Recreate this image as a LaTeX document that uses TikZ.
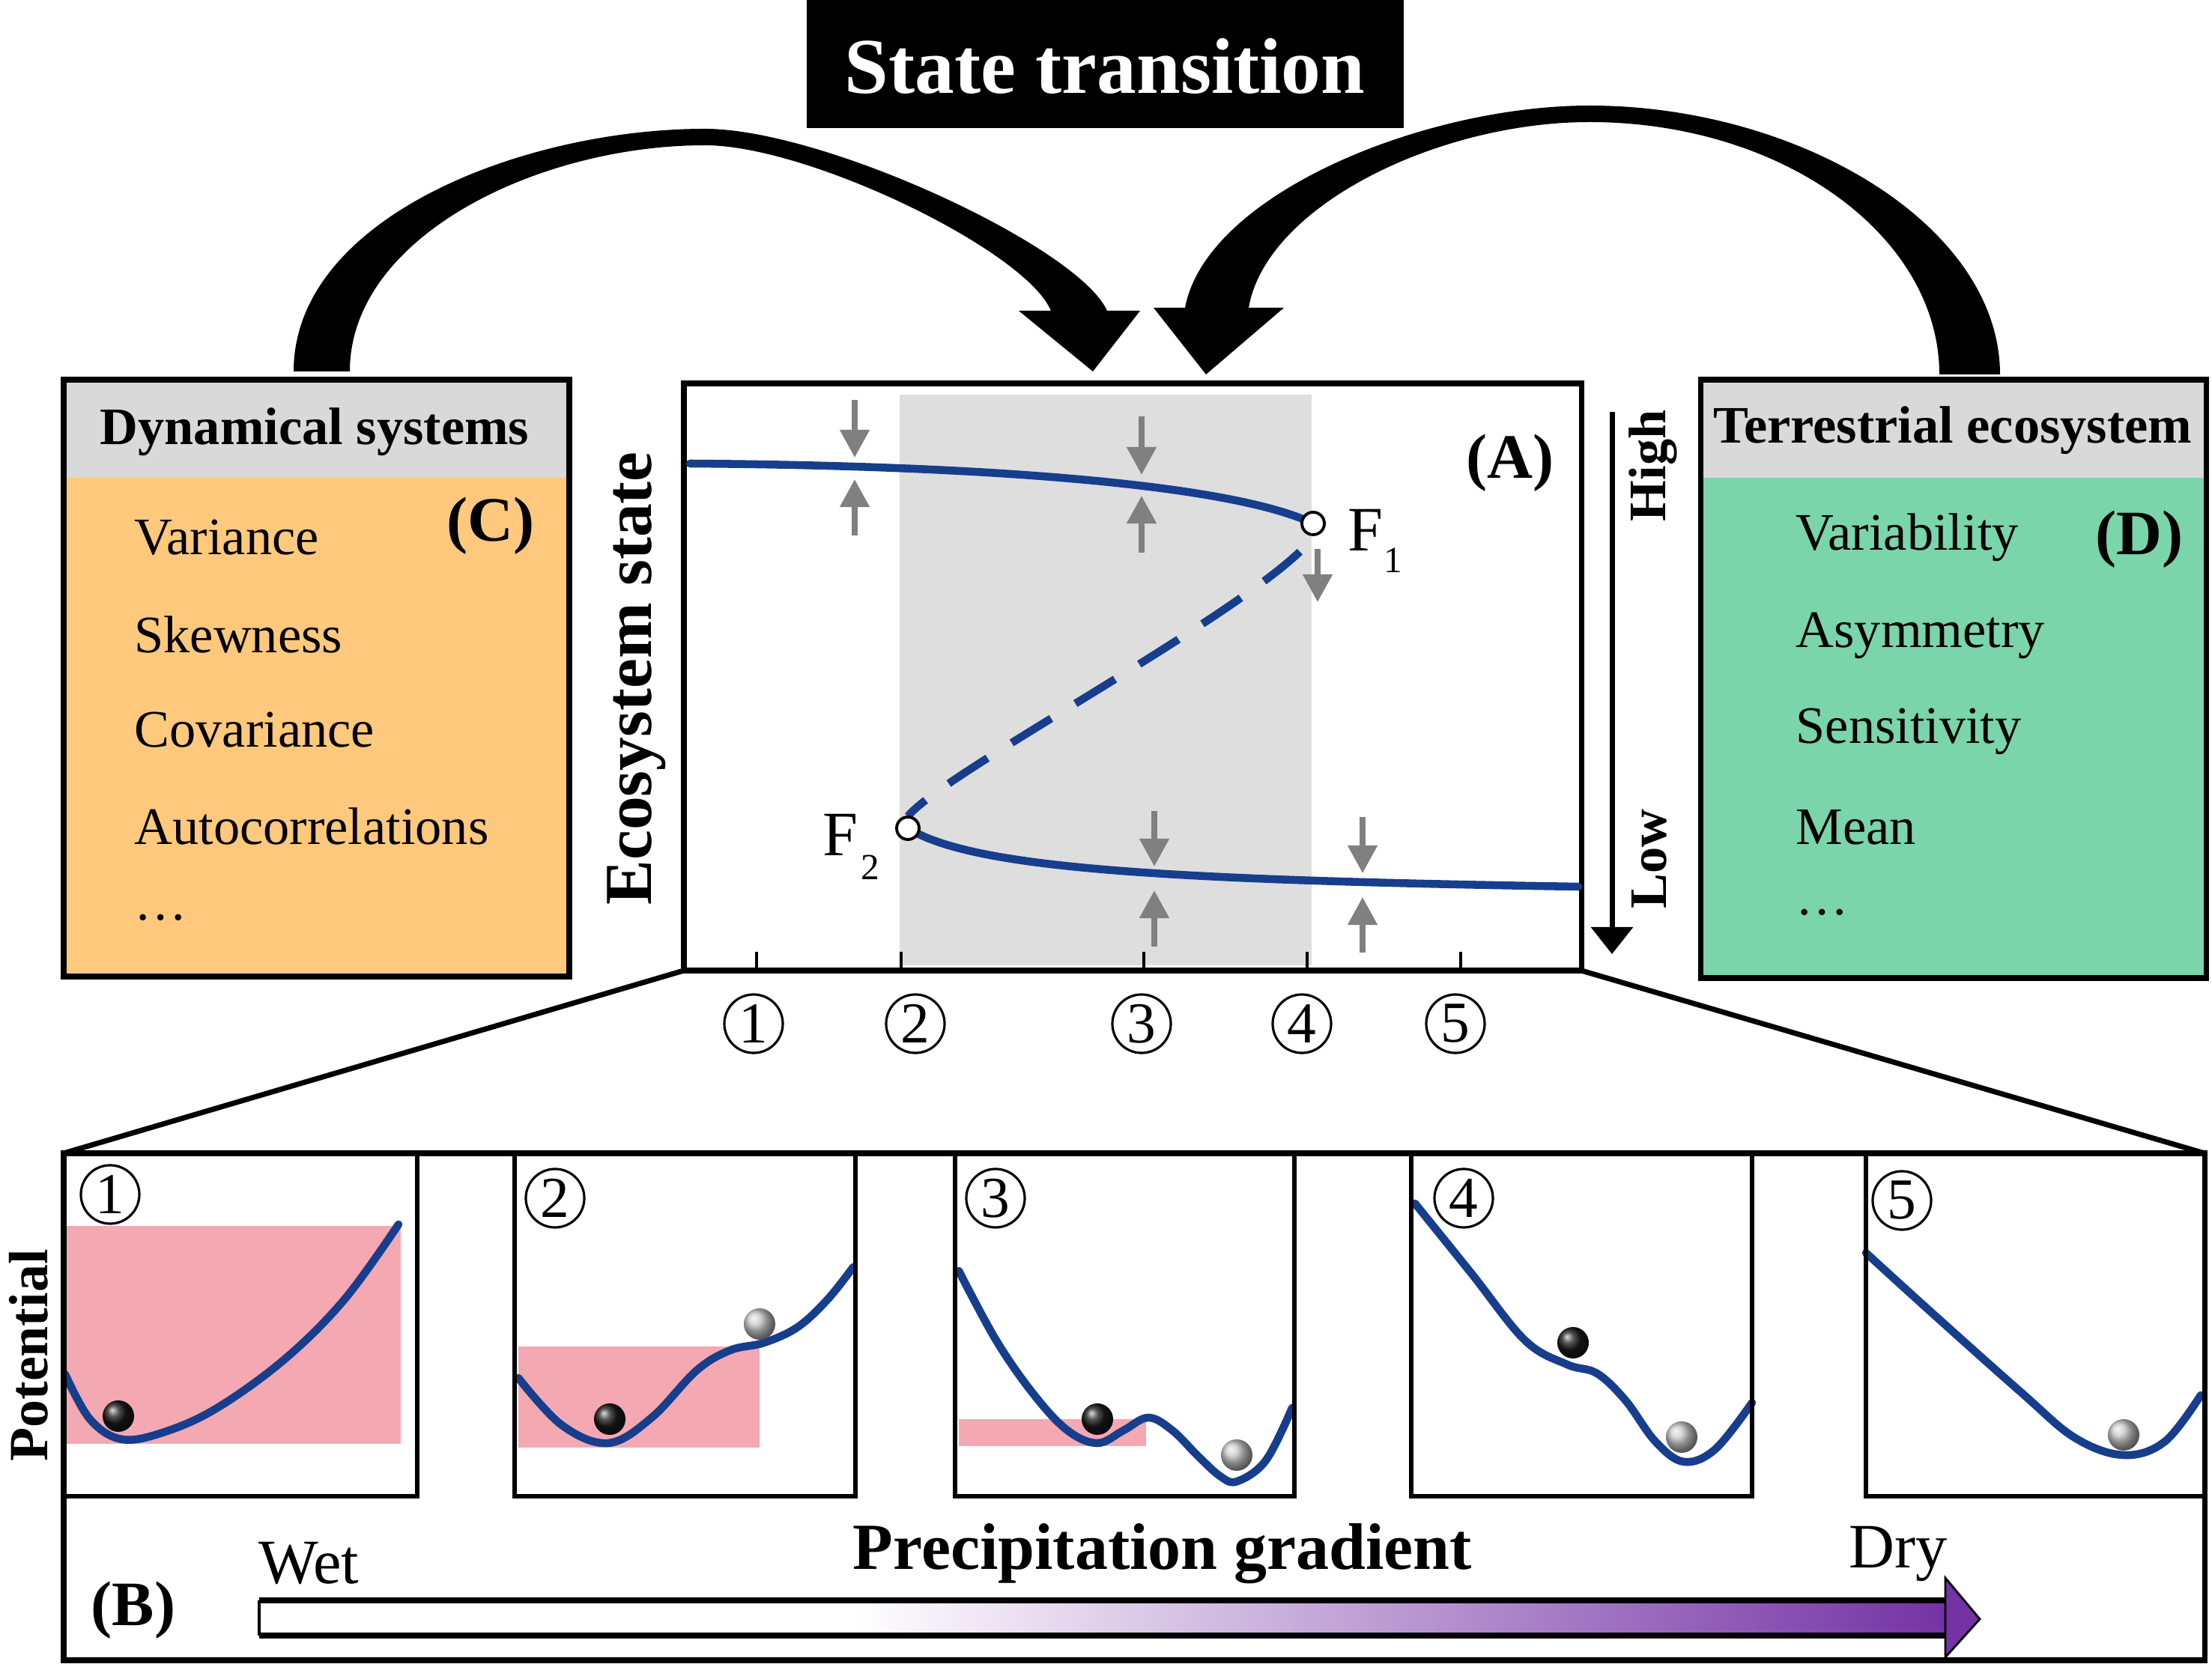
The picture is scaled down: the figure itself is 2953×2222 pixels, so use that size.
\documentclass[tikz,border=0pt]{standalone}
\usepackage{fontspec}
\setmainfont{Liberation Serif}
\usetikzlibrary{arrows.meta,shadings}
\definecolor{curveblue}{HTML}{163E8C}
\definecolor{boxorange}{HTML}{FFC97D}
\definecolor{boxgreen}{HTML}{7AD5AA}
\definecolor{hdrgray}{HTML}{D9D9D9}
\definecolor{bandgray}{HTML}{DEDEDE}
\definecolor{pinkband}{HTML}{F3A8B2}
\definecolor{arrgray}{HTML}{808080}
\definecolor{dryviolet}{HTML}{7433A4}
\begin{document}
\begin{tikzpicture}[x=0.01cm,y=-0.01cm,
  thickline/.style={line width=2pt},
  subbox/.style={line width=1.5pt},
  curve/.style={draw=curveblue, line width=3pt, line cap=round},
  garrow/.style={draw=arrgray, line width=2.2pt, -{Triangle[width=0.38cm,length=0.37cm]}},
  circnum/.style={circle, draw, line width=0.9pt, minimum size=0.78cm, inner sep=0pt, font=\fontsize{22}{22}\selectfont},
  itemtxt/.style={anchor=west, inner sep=0pt, font=\fontsize{20}{24}\selectfont},
  hdrtxt/.style={inner sep=0pt, font=\bfseries\fontsize{20}{24}\selectfont},
  tagtxt/.style={inner sep=0pt, font=\bfseries\fontsize{24}{28}\selectfont},
  bifpt/.style={circle, draw, fill=white, line width=1.1pt, minimum size=0.3cm, inner sep=0pt},
  blackball/.style={ball color=black!90},
  grayball/.style={ball color=gray!45}
]
\useasboundingbox (0,0) rectangle (2953,2222);
\fill[white] (0,0) rectangle (2953,2222);

% ---------- title ----------
\fill[black] (1077,0) rectangle (1874,171);
\node[text=white, font=\bfseries\fontsize{30}{36}\selectfont] (title) at (1475,88) {State transition};

% ---------- curved arrows ----------
\fill[black] (392,496) .. controls (392,290) and (700,172) .. (941,172)
  .. controls (1100,172) and (1440,330) .. (1478,415) -- (1522,415) -- (1459,496) -- (1360,415) -- (1403,415)
  .. controls (1370,335) and (1080,194) .. (941,194)
  .. controls (720,194) and (467,315) .. (467,496) -- cycle;
\fill[black] (2670,500) .. controls (2670,300) and (2400,141) .. (2122,141)
  .. controls (1900,141) and (1610,260) .. (1582,411) -- (1540,411) -- (1610,500) -- (1714,411) -- (1667,411)
  .. controls (1690,275) and (1920,163) .. (2122,163)
  .. controls (2380,163) and (2589,315) .. (2589,500) -- cycle;

% ---------- box C ----------
\fill[boxorange] (85,507) rectangle (760,1304);
\fill[hdrgray] (85,507) rectangle (760,638);
\draw[thickline] (85,507) rectangle (760,1304);
\node[hdrtxt] (hC) at (420,577) {Dynamical systems};
\node[tagtxt] (tC) at (655,702) {(C)};
\node[itemtxt] (c1) at (179,718) {Variance};
\node[itemtxt] (c2) at (179,847) {Skewness};
\node[itemtxt] (c3) at (179,975) {Covariance};
\node[itemtxt] (c4) at (179,1103) {Autocorrelations};
\node[itemtxt] (c5) at (179,1225) {\ldots};

% ---------- box D ----------
\fill[boxgreen] (2270,507) rectangle (2945,1306);
\fill[hdrgray] (2270,507) rectangle (2945,638);
\draw[thickline] (2270,507) rectangle (2945,1306);
\node[hdrtxt] (hD) at (2607,575) {Terrestrial ecosystem};
\node[tagtxt] (tD) at (2856,720) {(D)};
\node[itemtxt] (d1) at (2397,718) {Variability};
\node[itemtxt] (d2) at (2397,849) {Asymmetry};
\node[itemtxt] (d3) at (2397,977) {Sensitivity};
\node[itemtxt] (d4) at (2397,1105) {Mean};
\node[itemtxt] (d5) at (2397,1218) {\ldots};

% ---------- plot A ----------
\fill[bandgray] (1201,527) rectangle (1751,1289);
\foreach \tx in {1010,1203,1527,1745,1950} \draw[line width=1.4pt] (\tx,1271) -- (\tx,1296);
\draw[thickline] (913,512) rectangle (2111,1296);
\node[tagtxt] (tA) at (2016,618) {(A)};
\node[font=\bfseries\fontsize{25.5}{30}\selectfont, rotate=90] (ylab) at (850,906) {Ecosystem state};

\draw[curve] (921,619) .. controls (1350,622) and (1650,650) .. (1753,699);
\draw[curve] (1212,1106) .. controls (1300,1160) and (1550,1175) .. (2107,1184);
\draw[curve, line cap=butt, dash pattern=on 0.62cm off 0.38cm, dash phase=0.3cm] (1212,1090) .. controls (1260,1030) and (1700,800) .. (1757,712);

\draw[garrow] (1141,534) -- (1141,611);
\draw[garrow] (1141,715) -- (1141,640);
\draw[garrow] (1524,556) -- (1524,634);
\draw[garrow] (1524,738) -- (1524,662);
\draw[garrow] (1759,733) -- (1759,804);
\draw[garrow] (1541,1083) -- (1541,1157);
\draw[garrow] (1541,1264) -- (1541,1189);
\draw[garrow] (1819,1091) -- (1819,1166);
\draw[garrow] (1819,1272) -- (1819,1198);

\node[bifpt] (F1) at (1753,699) {};
\node[bifpt] (F2) at (1212,1106) {};
\node[font=\fontsize{24}{28}\selectfont, inner sep=0pt] (F1l) at (1823,708) {F};
\node[font=\fontsize{14}{16}\selectfont, inner sep=0pt] (F1s) at (1860,748) {1};
\node[font=\fontsize{24}{28}\selectfont, inner sep=0pt] (F2l) at (1122,1115) {F};
\node[font=\fontsize{14}{16}\selectfont, inner sep=0pt] (F2s) at (1162,1158) {2};

% High/Low arrow
\coordinate (hiTop) at (2152,550);
\coordinate (hiBot) at (2152,1274);
\draw[line width=2pt, -{Triangle[width=0.55cm,length=0.36cm]}] (hiTop) -- (hiBot);
\node[font=\bfseries\fontsize{20}{24}\selectfont, rotate=90, inner sep=0pt] (high) at (2207,622) {High};
\node[font=\bfseries\fontsize{20}{24}\selectfont, rotate=90, inner sep=0pt] (low) at (2202,1147) {Low};

% tick labels
\node[circnum] (n1) at (1006,1367) {1};
\node[circnum] (n2) at (1222,1367) {2};
\node[circnum] (n3) at (1524,1367) {3};
\node[circnum] (n4) at (1738,1367) {4};
\node[circnum] (n5) at (1943,1367) {5};

% ---------- zoom lines ----------
\draw[thickline] (913,1296) -- (85,1540);
\draw[thickline] (2111,1296) -- (2943,1540);

% ---------- panel B ----------
\fill[pinkband] (87,1637) rectangle (535,1928);
\fill[pinkband] (692,1798) rectangle (1014,1933);
\fill[pinkband] (1280,1895) rectangle (1530,1931);

\draw[curve] plot[smooth, tension=0.6] coordinates {(87,1835) (120,1895) (163,1922) (220,1912) (290,1880) (380,1815) (460,1735) (532,1635)};
\draw[curve] plot[smooth, tension=0.6] coordinates {(692,1840) (750,1903) (812,1927) (870,1893) (930,1830) (975,1803) (1020,1793) (1065,1772) (1105,1735) (1139,1692)};
\draw[curve] plot[smooth, tension=0.6] coordinates {(1280,1697) (1330,1790) (1380,1862) (1425,1910) (1465,1927) (1500,1910) (1533,1893) (1565,1910) (1600,1945) (1630,1972) (1652,1978) (1690,1950) (1725,1880)};
\draw[curve] plot[smooth, tension=0.6] coordinates {(1889,1607) (1964,1700) (2036,1790) (2092,1822) (2132,1834) (2170,1870) (2210,1925) (2248,1952) (2290,1935) (2339,1873)};
\draw[curve] plot[smooth, tension=0.6] coordinates {(2491,1673) (2579,1753) (2699,1860) (2770,1920) (2835,1943) (2890,1925) (2938,1863)};

\shade[blackball] (158,1891) circle[radius=0.21cm];
\shade[blackball] (814,1895) circle[radius=0.21cm];
\shade[blackball] (1465,1895) circle[radius=0.21cm];
\shade[blackball] (2100,1793) circle[radius=0.21cm];
\shade[grayball] (1014,1768) circle[radius=0.21cm];
\shade[grayball] (1651,1943) circle[radius=0.21cm];
\shade[grayball] (2245,1919) circle[radius=0.21cm];
\shade[grayball] (2835,1916) circle[radius=0.21cm];

\draw[subbox] (85,1540) rectangle (557,1998);
\draw[subbox] (687,1540) rectangle (1142,1998);
\draw[subbox] (1275,1540) rectangle (1728,1998);
\draw[subbox] (1884,1540) rectangle (2339,1998);
\draw[subbox] (2491,1540) rectangle (2943,1998);
\draw[thickline] (85,1540) rectangle (2943,2217);

\node[circnum] (p1) at (147,1595) {1};
\node[circnum] (p2) at (741,1600) {2};
\node[circnum] (p3) at (1329,1600) {3};
\node[circnum] (p4) at (1954,1600) {4};
\node[circnum] (p5) at (2539,1603) {5};

\node[font=\bfseries\fontsize{21}{24}\selectfont, rotate=90, inner sep=0pt] (pot) at (38,1810) {Potential};

% gradient arrow
\fill[white] (346,2137) rectangle (1140,2184);
\shade[left color=white, right color=dryviolet] (1140,2137) rectangle (2597,2184);
\draw[line width=2pt] (346,2137) -- (2597,2137);
\draw[line width=2pt] (346,2184) -- (2597,2184);
\draw[line width=1pt] (346,2137) -- (346,2184);
\filldraw[fill=dryviolet, draw=black, line width=0.8pt] (2597,2107) -- (2643,2162) -- (2597,2213) -- cycle;

\node[tagtxt] (tB) at (178,2150) {(B)};
\node[font=\fontsize{24}{28}\selectfont, inner sep=0pt] (wet) at (412,2088) {Wet};
\node[font=\fontsize{24}{28}\selectfont, inner sep=0pt] (dry) at (2534,2075) {Dry};
\node[font=\bfseries\fontsize{25}{30}\selectfont, inner sep=0pt] (prec) at (1552,2075) {Precipitation gradient};
\end{tikzpicture}
\end{document}
